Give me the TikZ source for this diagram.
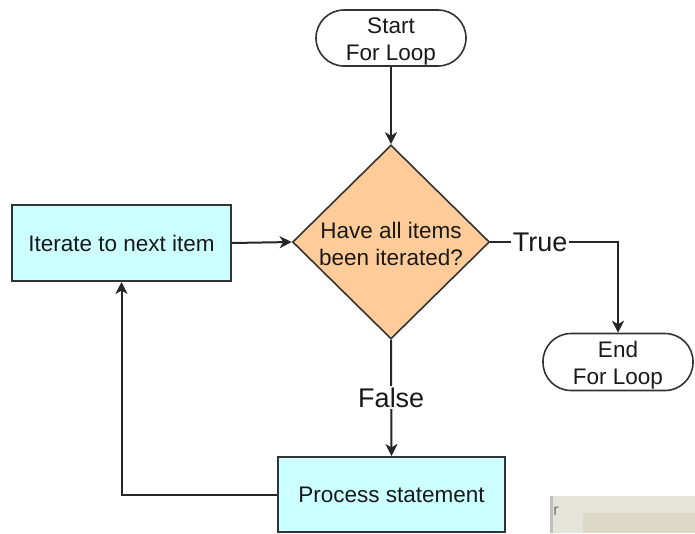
\documentclass[tikz,border=0pt]{standalone}
\usepackage{fontspec}
\setmainfont{Liberation Sans}
\usetikzlibrary{shapes.geometric,arrows.meta}
\definecolor{boxfill}{HTML}{CCFFFF}
\definecolor{decfill}{HTML}{FFCC99}
\definecolor{edge}{HTML}{333333}
\definecolor{panelA}{HTML}{E5E4DA}
\definecolor{panelB}{HTML}{DCD9C6}
\begin{document}
\begin{tikzpicture}[x=1pt,y=-1pt,
  every node/.style={font=\fontsize{22.5}{27}\selectfont, text=black!90, align=center},
  terminal/.style={draw=edge, line width=1.6pt, fill=white, rounded corners=28pt,
    minimum width=150pt, minimum height=56pt, inner sep=0pt,
    text height=49.5pt, text depth=4.7pt},
  procbox/.style={draw=edge, line width=2pt, fill=boxfill,
    minimum height=76pt, inner sep=0pt},
  decision/.style={diamond, draw=edge, line width=1.6pt, fill=decfill,
    minimum width=197pt, minimum height=194pt, inner sep=0pt},
  flow/.style={draw=black!85, line width=2pt,
    -{Stealth[length=12pt,width=12pt,inset=3.5pt]}},
  branch/.style={fill=white, inner sep=1.5pt, font=\fontsize{27}{30}\selectfont}
]
\useasboundingbox (0,0) rectangle (695,533);

% stray panel in the lower right corner
\fill[panelA] (550,496) rectangle (695,533);
\fill[black!25] (550,496) rectangle (552.5,533);
\fill[panelB] (583,513) rectangle (695,533);
\node[font=\fontsize{16}{16}\selectfont, text=black!55, inner sep=0pt] (rmark) at (556,511) {r};

% nodes
\node[terminal] (start) at (391,38) {Start\\For Loop};
\node[decision] (test) at (391,242) {};
\node (testtxt) at (391,244) {Have all items\\been iterated?};
\node[procbox, minimum width=219pt] (iter) at (121.5,243) {Iterate to next item};
\node[procbox, minimum width=227pt, minimum height=75pt] (proc) at (391.5,494.5) {Process statement};
\node[terminal, minimum height=57pt] (end) at (618,362) {End\\For Loop};

% connectors
\draw[flow] (start.south) -- (test.north);
\draw[flow] (iter.east) -- (test.west);
\draw[flow] (test.east) -- node[branch, pos=0.39] (truelbl) {True} (test.east -| end.north) -- (end.north);
\draw[flow] (test.south) -- node[branch] (falselbl) {False} (proc.north);
\draw[flow] (proc.west) -| (iter.south);
\end{tikzpicture}
\end{document}
